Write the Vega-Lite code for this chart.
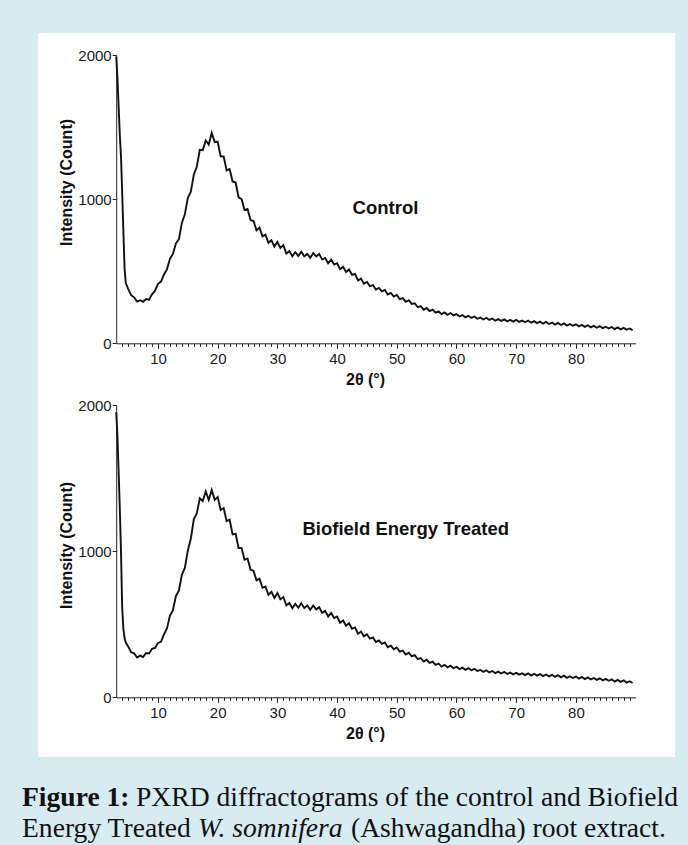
{
  "$schema": "https://vega.github.io/schema/vega-lite/v6.json",
  "width": 637,
  "height": 724,
  "autosize": {"type": "none"},
  "padding": {"left": 38, "top": 33, "right": 13, "bottom": 88},
  "background": "#d7ecf1",
  "config": {
    "view": {"fill": "white", "stroke": null},
    "font": "Liberation Sans",
    "axis": {
      "grid": false,
      "domainColor": "#222",
      "tickColor": "#222",
      "labelColor": "#1a1a1a",
      "labelFont": "Liberation Sans",
      "labelFontSize": 15,
      "titleFont": "Liberation Sans",
      "titleFontSize": 16,
      "titleFontWeight": "bold",
      "titleColor": "#111",
      "tickSize": 5,
      "format": "d"
    }
  },
  "datasets": {
    "control": [
      {"t":3.0,"i":1990},{"t":3.2,"i":1850},{"t":3.4,"i":1650},{"t":3.6,"i":1450},{"t":3.8,"i":1300},{"t":4.0,"i":1050},{"t":4.2,"i":780},{"t":4.4,"i":520},{"t":4.6,"i":420},
      {"t":5.0,"i":378},{"t":5.5,"i":334},{"t":6.0,"i":319},{"t":6.5,"i":289},{"t":7.0,"i":299},{"t":7.5,"i":288},{"t":8.0,"i":307},{"t":8.5,"i":302},{"t":9.0,"i":340},{"t":9.5,"i":365},
      {"t":10.0,"i":413},{"t":10.5,"i":428},{"t":11.0,"i":477},{"t":11.5,"i":513},{"t":12.0,"i":586},{"t":12.5,"i":620},{"t":13.0,"i":693},{"t":13.5,"i":722},{"t":14.0,"i":835},{"t":14.5,"i":895},
      {"t":15.0,"i":1010},{"t":15.5,"i":1052},{"t":16.0,"i":1170},{"t":16.5,"i":1225},{"t":17.0,"i":1342},{"t":17.5,"i":1340},{"t":18.0,"i":1407},{"t":18.5,"i":1379},{"t":19.0,"i":1460},{"t":19.5,"i":1397},
      {"t":20.0,"i":1398},{"t":20.5,"i":1297},{"t":21.0,"i":1296},{"t":21.5,"i":1199},{"t":22.0,"i":1209},{"t":22.5,"i":1123},{"t":23.0,"i":1115},{"t":23.5,"i":1012},{"t":24.0,"i":1000},{"t":24.5,"i":924},
      {"t":25.0,"i":932},{"t":25.5,"i":855},{"t":26.0,"i":848},{"t":26.5,"i":784},{"t":27.0,"i":802},{"t":27.5,"i":742},{"t":28.0,"i":754},{"t":28.5,"i":697},{"t":29.0,"i":715},{"t":29.5,"i":671},
      {"t":30.0,"i":703},{"t":30.5,"i":661},{"t":31.0,"i":681},{"t":31.5,"i":622},{"t":32.0,"i":640},{"t":32.5,"i":604},{"t":33.0,"i":632},{"t":33.5,"i":606},{"t":34.0,"i":635},{"t":34.5,"i":603},
      {"t":35.0,"i":620},{"t":35.5,"i":593},{"t":36.0,"i":626},{"t":36.5,"i":602},{"t":37.0,"i":620},{"t":37.5,"i":581},{"t":38.0,"i":592},{"t":38.5,"i":555},{"t":39.0,"i":580},{"t":39.5,"i":546},
      {"t":40.0,"i":556},{"t":40.5,"i":514},{"t":41.0,"i":531},{"t":41.5,"i":494},{"t":42.0,"i":512},{"t":42.5,"i":475},{"t":43.0,"i":481},{"t":43.5,"i":436},{"t":44.0,"i":449},{"t":44.5,"i":414},
      {"t":45.0,"i":426},{"t":45.5,"i":396},{"t":46.0,"i":404},{"t":46.5,"i":373},{"t":47.0,"i":384},{"t":47.5,"i":361},{"t":48.0,"i":370},{"t":48.5,"i":339},{"t":49.0,"i":349},{"t":49.5,"i":324},
      {"t":50.0,"i":335},{"t":50.5,"i":307},{"t":51.0,"i":313},{"t":51.5,"i":288},{"t":52.0,"i":299},{"t":52.5,"i":273},{"t":53.0,"i":278},{"t":53.5,"i":251},{"t":54.0,"i":258},{"t":54.5,"i":233},
      {"t":55.0,"i":245},{"t":55.5,"i":224},{"t":56.0,"i":234},{"t":56.5,"i":213},{"t":57.0,"i":221},{"t":57.5,"i":202},{"t":58.0,"i":214},{"t":58.5,"i":198},{"t":59.0,"i":210},{"t":59.5,"i":193},
      {"t":60.0,"i":203},{"t":60.5,"i":186},{"t":61.0,"i":196},{"t":61.5,"i":180},{"t":62.0,"i":191},{"t":62.5,"i":176},{"t":63.0,"i":186},{"t":63.5,"i":170},{"t":64.0,"i":178},{"t":64.5,"i":165},
      {"t":65.0,"i":177},{"t":65.5,"i":162},{"t":66.0,"i":172},{"t":66.5,"i":157},{"t":67.0,"i":168},{"t":67.5,"i":155},{"t":68.0,"i":166},{"t":68.5,"i":152},{"t":69.0,"i":162},{"t":69.5,"i":150},
      {"t":70.0,"i":162},{"t":70.5,"i":149},{"t":71.0,"i":158},{"t":71.5,"i":146},{"t":72.0,"i":158},{"t":72.5,"i":143},{"t":73.0,"i":154},{"t":73.5,"i":140},{"t":74.0,"i":150},{"t":74.5,"i":136},
      {"t":75.0,"i":148},{"t":75.5,"i":134},{"t":76.0,"i":144},{"t":76.5,"i":130},{"t":77.0,"i":141},{"t":77.5,"i":127},{"t":78.0,"i":138},{"t":78.5,"i":123},{"t":79.0,"i":134},{"t":79.5,"i":122},
      {"t":80.0,"i":132},{"t":80.5,"i":118},{"t":81.0,"i":128},{"t":81.5,"i":114},{"t":82.0,"i":125},{"t":82.5,"i":111},{"t":83.0,"i":121},{"t":83.5,"i":108},{"t":84.0,"i":119},{"t":84.5,"i":105},
      {"t":85.0,"i":115},{"t":85.5,"i":103},{"t":86.0,"i":113},{"t":86.5,"i":99},{"t":87.0,"i":110},{"t":87.5,"i":97},{"t":88.0,"i":107},{"t":88.5,"i":94},{"t":89.0,"i":103},{"t":89.5,"i":92}
    ],
    "treated": [
      {"t":3.0,"i":1950},{"t":3.2,"i":1800},{"t":3.4,"i":1550},{"t":3.6,"i":1300},{"t":3.8,"i":1000},{"t":4.0,"i":620},{"t":4.2,"i":470},{"t":4.4,"i":405},{"t":4.6,"i":375},
      {"t":5.0,"i":348},{"t":5.5,"i":308},{"t":6.0,"i":301},{"t":6.5,"i":272},{"t":7.0,"i":285},{"t":7.5,"i":276},{"t":8.0,"i":303},{"t":8.5,"i":300},{"t":9.0,"i":332},{"t":9.5,"i":338},
      {"t":10.0,"i":372},{"t":10.5,"i":380},{"t":11.0,"i":430},{"t":11.5,"i":471},{"t":12.0,"i":557},{"t":12.5,"i":596},{"t":13.0,"i":692},{"t":13.5,"i":730},{"t":14.0,"i":838},{"t":14.5,"i":885},
      {"t":15.0,"i":1005},{"t":15.5,"i":1085},{"t":16.0,"i":1218},{"t":16.5,"i":1258},{"t":17.0,"i":1362},{"t":17.5,"i":1343},{"t":18.0,"i":1410},{"t":18.5,"i":1350},{"t":19.0,"i":1418},{"t":19.5,"i":1352},
      {"t":20.0,"i":1370},{"t":20.5,"i":1282},{"t":21.0,"i":1295},{"t":21.5,"i":1205},{"t":22.0,"i":1215},{"t":22.5,"i":1115},{"t":23.0,"i":1118},{"t":23.5,"i":1022},{"t":24.0,"i":1022},{"t":24.5,"i":942},
      {"t":25.0,"i":950},{"t":25.5,"i":874},{"t":26.0,"i":865},{"t":26.5,"i":800},{"t":27.0,"i":812},{"t":27.5,"i":750},{"t":28.0,"i":758},{"t":28.5,"i":702},{"t":29.0,"i":722},{"t":29.5,"i":680},
      {"t":30.0,"i":714},{"t":30.5,"i":670},{"t":31.0,"i":686},{"t":31.5,"i":628},{"t":32.0,"i":645},{"t":32.5,"i":610},{"t":33.0,"i":640},{"t":33.5,"i":613},{"t":34.0,"i":643},{"t":34.5,"i":610},
      {"t":35.0,"i":628},{"t":35.5,"i":598},{"t":36.0,"i":628},{"t":36.5,"i":602},{"t":37.0,"i":617},{"t":37.5,"i":578},{"t":38.0,"i":591},{"t":38.5,"i":553},{"t":39.0,"i":577},{"t":39.5,"i":542},
      {"t":40.0,"i":553},{"t":40.5,"i":510},{"t":41.0,"i":526},{"t":41.5,"i":489},{"t":42.0,"i":507},{"t":42.5,"i":469},{"t":43.0,"i":478},{"t":43.5,"i":435},{"t":44.0,"i":450},{"t":44.5,"i":417},
      {"t":45.0,"i":431},{"t":45.5,"i":401},{"t":46.0,"i":409},{"t":46.5,"i":378},{"t":47.0,"i":389},{"t":47.5,"i":366},{"t":48.0,"i":375},{"t":48.5,"i":343},{"t":49.0,"i":353},{"t":49.5,"i":329},
      {"t":50.0,"i":341},{"t":50.5,"i":313},{"t":51.0,"i":319},{"t":51.5,"i":293},{"t":52.0,"i":305},{"t":52.5,"i":280},{"t":53.0,"i":289},{"t":53.5,"i":262},{"t":54.0,"i":269},{"t":54.5,"i":245},
      {"t":55.0,"i":257},{"t":55.5,"i":235},{"t":56.0,"i":244},{"t":56.5,"i":222},{"t":57.0,"i":230},{"t":57.5,"i":210},{"t":58.0,"i":222},{"t":58.5,"i":205},{"t":59.0,"i":216},{"t":59.5,"i":199},
      {"t":60.0,"i":209},{"t":60.5,"i":193},{"t":61.0,"i":203},{"t":61.5,"i":188},{"t":62.0,"i":199},{"t":62.5,"i":185},{"t":63.0,"i":195},{"t":63.5,"i":180},{"t":64.0,"i":187},{"t":64.5,"i":174},
      {"t":65.0,"i":185},{"t":65.5,"i":170},{"t":66.0,"i":180},{"t":66.5,"i":165},{"t":67.0,"i":176},{"t":67.5,"i":163},{"t":68.0,"i":174},{"t":68.5,"i":160},{"t":69.0,"i":169},{"t":69.5,"i":157},
      {"t":70.0,"i":168},{"t":70.5,"i":155},{"t":71.0,"i":164},{"t":71.5,"i":152},{"t":72.0,"i":164},{"t":72.5,"i":149},{"t":73.0,"i":161},{"t":73.5,"i":148},{"t":74.0,"i":158},{"t":74.5,"i":145},
      {"t":75.0,"i":156},{"t":75.5,"i":143},{"t":76.0,"i":154},{"t":76.5,"i":140},{"t":77.0,"i":151},{"t":77.5,"i":137},{"t":78.0,"i":148},{"t":78.5,"i":133},{"t":79.0,"i":144},{"t":79.5,"i":132},
      {"t":80.0,"i":142},{"t":80.5,"i":128},{"t":81.0,"i":139},{"t":81.5,"i":125},{"t":82.0,"i":136},{"t":82.5,"i":122},{"t":83.0,"i":132},{"t":83.5,"i":119},{"t":84.0,"i":130},{"t":84.5,"i":116},
      {"t":85.0,"i":126},{"t":85.5,"i":113},{"t":86.0,"i":123},{"t":86.5,"i":108},{"t":87.0,"i":119},{"t":87.5,"i":106},{"t":88.0,"i":116},{"t":88.5,"i":101},{"t":89.0,"i":110},{"t":89.5,"i":98}
    ]
  },
  "layer": [
    {
      "data": {"name": "control"},
      "mark": {"type": "line", "color": "#111", "strokeWidth": 1.9},
      "encoding": {
        "x": {"field": "t", "type": "quantitative",
          "scale": {"domain": [3, 90], "range": [78.2, 597.6], "nice": false, "zero": false},
          "axis": {"orient": "bottom", "offset": -413.7, "values": [10, 20, 30, 40, 50, 60, 70, 80], "title": "2θ (°)", "titleX": 327, "labelPadding": 3, "titlePadding": 5}},
        "y": {"field": "i", "type": "quantitative",
          "scale": {"domain": [0, 2000], "range": [310.3, 22], "nice": false, "zero": false},
          "axis": {"orient": "left", "offset": -78.2, "values": [0, 1000, 2000], "title": "Intensity (Count)", "titleY": 149, "labelPadding": 1, "tickSize": 4, "titlePadding": 3}}
      }
    },
    {
      "data": {"name": "treated"},
      "mark": {"type": "line", "color": "#111", "strokeWidth": 1.9},
      "encoding": {
        "x": {"field": "t", "type": "quantitative",
          "scale": {"domain": [3, 90], "range": [78.2, 597.6], "nice": false, "zero": false},
          "axis": {"orient": "bottom", "offset": -59.7, "values": [10, 20, 30, 40, 50, 60, 70, 80], "title": "2θ (°)", "titleX": 327, "labelPadding": 3, "titlePadding": 5}},
        "y": {"field": "i", "type": "quantitative",
          "scale": {"domain": [0, 2000], "range": [664.3, 372], "nice": false, "zero": false},
          "axis": {"orient": "left", "offset": -78.2, "values": [0, 1000, 2000], "title": "Intensity (Count)", "titleY": 512, "labelPadding": 1, "tickSize": 4, "titlePadding": 3}}
      }
    },
    {
      "data": {"values": [{"t": 3}, {"t": 90}]},
      "mark": {"type": "point", "opacity": 0},
      "encoding": {
        "x": {"field": "t", "type": "quantitative",
          "scale": {"domain": [3, 90], "range": [78.2, 597.6], "nice": false, "zero": false},
          "axis": {"orient": "bottom", "offset": -413.7, "values": [4,5,6,7,8,9,11,12,13,14,15,16,17,18,19,21,22,23,24,25,26,27,28,29,31,32,33,34,35,36,37,38,39,41,42,43,44,45,46,47,48,49,51,52,53,54,55,56,57,58,59,61,62,63,64,65,66,67,68,69,71,72,73,74,75,76,77,78,79,81,82,83,84,85,86,87,88,89], "labels": false, "domain": false, "tickSize": 3, "title": null}}
      }
    },
    {
      "data": {"values": [{"t": 3}, {"t": 90}]},
      "mark": {"type": "point", "opacity": 0},
      "encoding": {
        "x": {"field": "t", "type": "quantitative",
          "scale": {"domain": [3, 90], "range": [78.2, 597.6], "nice": false, "zero": false},
          "axis": {"orient": "bottom", "offset": -59.7, "values": [4,5,6,7,8,9,11,12,13,14,15,16,17,18,19,21,22,23,24,25,26,27,28,29,31,32,33,34,35,36,37,38,39,41,42,43,44,45,46,47,48,49,51,52,53,54,55,56,57,58,59,61,62,63,64,65,66,67,68,69,71,72,73,74,75,76,77,78,79,81,82,83,84,85,86,87,88,89], "labels": false, "domain": false, "tickSize": 3, "title": null}}
      }
    },
    {
      "data": {"values": [{"t": 48.1, "i": 940, "label": "Control"}]},
      "mark": {"type": "text", "fontWeight": "bold", "fontSize": 18.5, "font": "Liberation Sans", "color": "#111", "baseline": "middle"},
      "encoding": {
        "x": {"field": "t", "type": "quantitative", "scale": {"domain": [3, 90], "range": [78.2, 597.6], "nice": false, "zero": false}, "axis": null},
        "y": {"field": "i", "type": "quantitative", "scale": {"domain": [0, 2000], "range": [310.3, 22], "nice": false, "zero": false}, "axis": null},
        "text": {"field": "label"}
      }
    },
    {
      "data": {"values": [{"t": 51.5, "i": 1152, "label": "Biofield Energy Treated"}]},
      "mark": {"type": "text", "fontWeight": "bold", "fontSize": 18.5, "font": "Liberation Sans", "color": "#111", "baseline": "middle"},
      "encoding": {
        "x": {"field": "t", "type": "quantitative", "scale": {"domain": [3, 90], "range": [78.2, 597.6], "nice": false, "zero": false}, "axis": null},
        "y": {"field": "i", "type": "quantitative", "scale": {"domain": [0, 2000], "range": [664.3, 372], "nice": false, "zero": false}, "axis": null},
        "text": {"field": "label"}
      }
    },
    {
      "data": {"values": [{"label": "Figure 1:"}]},
      "mark": {"type": "text", "font": "Liberation Serif", "fontSize": 27.6, "fontWeight": "bold", "align": "left", "baseline": "alphabetic", "color": "#111"},
      "encoding": {"x": {"value": -16}, "y": {"value": 773}, "text": {"field": "label"}}
    },
    {
      "data": {"values": [{"label": "PXRD diffractograms of the control and Biofield"}]},
      "mark": {"type": "text", "font": "Liberation Serif", "fontSize": 27.6, "align": "left", "baseline": "alphabetic", "color": "#111"},
      "encoding": {"x": {"value": 98}, "y": {"value": 773}, "text": {"field": "label"}}
    },
    {
      "data": {"values": [{"label": "Energy Treated"}]},
      "mark": {"type": "text", "font": "Liberation Serif", "fontSize": 27.6, "align": "left", "baseline": "alphabetic", "color": "#111"},
      "encoding": {"x": {"value": -16}, "y": {"value": 804}, "text": {"field": "label"}}
    },
    {
      "data": {"values": [{"label": "W. somnifera"}]},
      "mark": {"type": "text", "font": "Liberation Serif", "fontSize": 27.6, "fontStyle": "italic", "align": "left", "baseline": "alphabetic", "color": "#111"},
      "encoding": {"x": {"value": 160}, "y": {"value": 804}, "text": {"field": "label"}}
    },
    {
      "data": {"values": [{"label": "(Ashwagandha) root extract."}]},
      "mark": {"type": "text", "font": "Liberation Serif", "fontSize": 27.6, "align": "left", "baseline": "alphabetic", "color": "#111"},
      "encoding": {"x": {"value": 313}, "y": {"value": 804}, "text": {"field": "label"}}
    }
  ],
  "resolve": {"scale": {"x": "independent", "y": "independent"}, "axis": {"x": "independent", "y": "independent"}}
}
